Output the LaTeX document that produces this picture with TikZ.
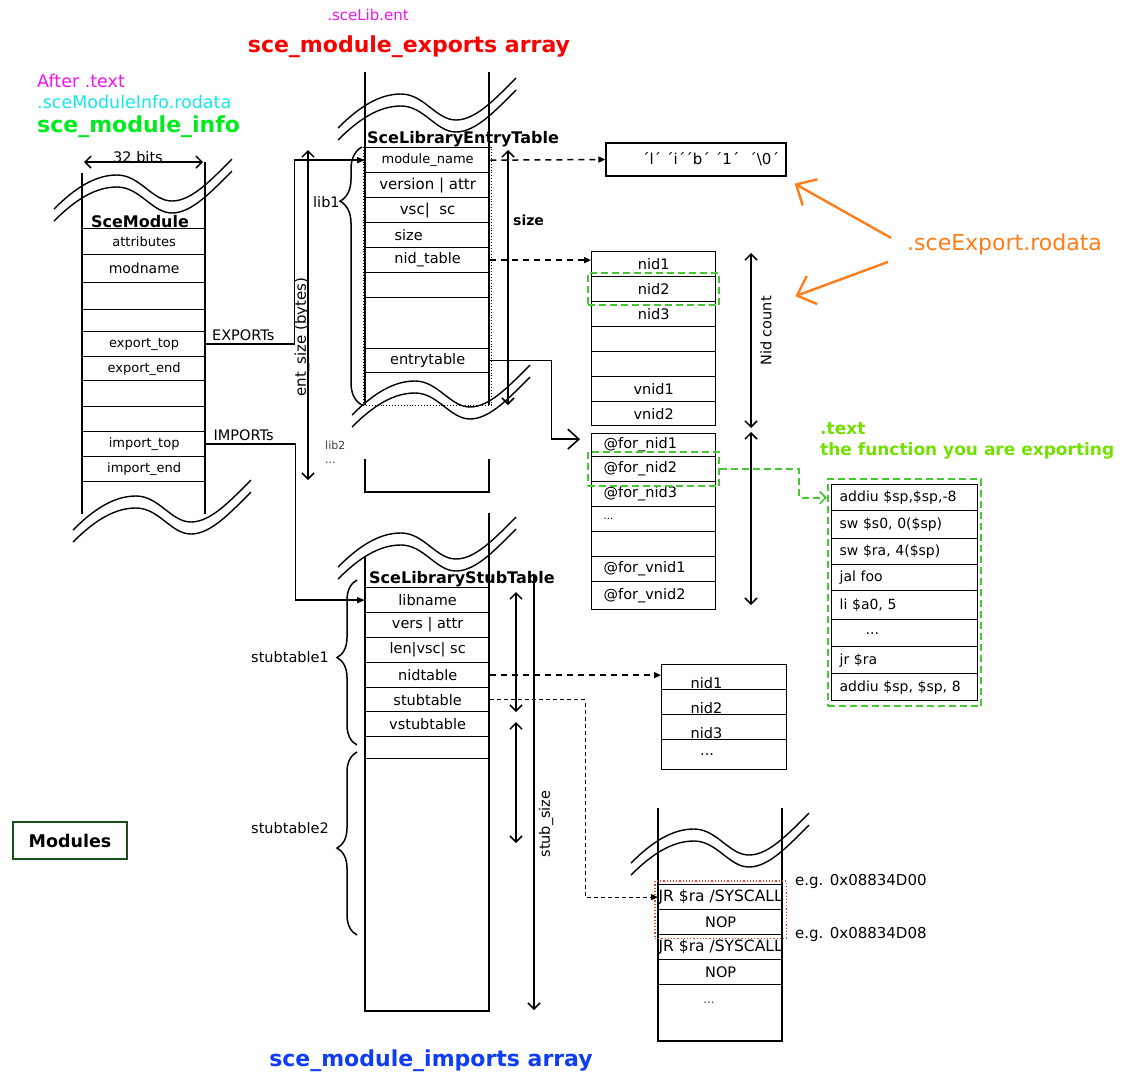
\documentclass[tikz,border=0pt]{standalone}
\usepackage{fontspec}
\setmainfont{DejaVu Sans}
\usetikzlibrary{arrows.meta,positioning,fit,calc,decorations.pathreplacing}
\newcommand{\pspfs}[1]{\fontsize{#1}{#1}\selectfont}
\definecolor{PspMagenta}{RGB}{240,20,240}
\definecolor{PspCyan}{RGB}{20,230,235}
\definecolor{PspGreen}{RGB}{0,235,30}
\definecolor{PspRed}{RGB}{250,0,0}
\definecolor{PspBlue}{RGB}{15,60,245}
\definecolor{PspOrange}{RGB}{255,125,25}
\definecolor{PspLime}{RGB}{115,225,0}
\definecolor{PspDash}{RGB}{70,200,50}
\definecolor{PspDarkGreen}{RGB}{25,80,25}
\definecolor{PspDotRed}{RGB}{230,70,40}
\tikzset{
  psp/wall/.style={line width=1.5pt},
  psp/cell/.style={draw, line width=1.3pt, inner sep=0pt, anchor=north west, font=\pspfs{14.5}},
  psp/lcell/.style={psp/cell, align=left, inner xsep=12pt, text width=100pt},
  psp/codecell/.style={psp/cell, align=left, inner xsep=8pt, text width=130pt, font=\pspfs{14}},
  psp/lowcell/.style={psp/cell, align=left, inner xsep=29pt, text width=67pt, text height=22pt, text depth=0pt},
  psp/title/.style={font=\bfseries\pspfs{22}, inner sep=0pt},
  psp/note/.style={font=\pspfs{14.5}, inner sep=0pt},
  psp/small/.style={font=\pspfs{11}, inner sep=0pt, text=black!75},
  psp/dim/.style={<->, >={Straight Barb[length=6pt,width=12pt]}, line width=1.5pt},
  psp/link/.style={-{Triangle[length=8pt,width=6pt]}, line width=1.4pt},
  psp/dashlink/.style={-{Triangle[length=7pt,width=6pt]}, dash pattern=on 6pt off 5pt, line width=1.5pt},
  psp/dashthin/.style={-{Triangle[length=7pt,width=6pt]}, dash pattern=on 4pt off 3pt, line width=1.2pt},
  psp/bigarrow/.style={->, >={Straight Barb[length=11pt,width=20pt]}, line width=1.6pt},
  psp/greenbox/.style={draw=PspDash, dash pattern=on 7pt off 4pt, line width=1.7pt, inner sep=3pt},
  psp/greenlink/.style={->, >={Straight Barb[length=6pt,width=12pt]}, draw=PspDash, dash pattern=on 7pt off 4pt, line width=1.7pt},
  psp/reddots/.style={draw=PspDotRed, dotted, line width=1.2pt, inner sep=3pt},
  psp/orangearrow/.style={->, >={Straight Barb[length=16pt,width=30pt]}, draw=PspOrange, line width=2.4pt},
  psp/brace/.style={decorate, line width=1.5pt},
  breakwave/.pic={
    \foreach \dy in {0,12}
      \draw[line width=1.4pt] (0,\dy) .. controls (22,\dy-22) and (42,\dy-34) .. (63,\dy-34)
        .. controls (86,\dy-34) and (98,\dy-8) .. (118,\dy-8)
        .. controls (138,\dy-8) and (158,\dy-30) .. (178,\dy-50);
  }
}

\begin{document}
\begin{tikzpicture}[x=1pt,y=-1pt]
  \useasboundingbox (0,0) rectangle (1130,1074);

  % section titles
  \node[psp/note, font=\pspfs{15}, text=PspMagenta, anchor=base] (libent) at (368,20) {.sceLib.ent};
  \node[psp/title, text=PspRed, anchor=base] (exparr) at (409,52) {sce\_module\_exports array};
  \node[psp/note, font=\pspfs{17.5}, text=PspMagenta, anchor=base west] (aftertext) at (37,87) {After .text};
  \node[psp/note, font=\pspfs{17.5}, text=PspCyan, anchor=base west] (infosec) at (37,108) {.sceModuleInfo.rodata};
  \node[psp/title, text=PspGreen, anchor=base west] (infoname) at (37,132) {sce\_module\_info};
  \node[psp/title, text=PspBlue, anchor=base] (imparr) at (431,1066) {sce\_module\_imports array};

  % SceModule
  \draw[psp/wall] (82,173) -- (82,514) (205,162) -- (205,514);
  \pic at (54,209) {breakwave};
  \pic at (73,530) {breakwave};
  \draw[psp/dim] (84,162) -- (203,162);
  \node[psp/note, anchor=base] (bits) at (138,162) {32 bits};
  \node[font=\bfseries\pspfs{16}, inner sep=0pt, anchor=base] (modtitle) at (140,227) {SceModule};
  \foreach \nm/\ya/\yb/\txt in {attr/228/254/attributes, modname/254/282/{\pspfs{14}modname},
      gap1/282/309/{}, gap2/309/331/{}, export/331/356/export\_top, exportend/356/380/export\_end,
      gap3/380/406/{}, gap4/406/431/{}, import/431/456/import\_top, importend/456/481/import\_end}
    \node[psp/cell, font=\pspfs{13}, minimum width=123, minimum height=\yb-\ya] (m-\nm) at (82,\ya) {\txt};

  % SceLibraryEntryTable
  \draw[psp/wall] (365,72) -- (365,405) (489,72) -- (489,405);
  \draw[psp/wall] (365,459) -- (365,492) -- (489,492) -- (489,459);
  \draw[dotted, line width=0.9pt] (363,147) rectangle (491,405);
  \pic at (338,128) {breakwave};
  \pic at (352,415) {breakwave};
  \node[font=\bfseries\pspfs{16}, inner sep=0pt, anchor=base west] (enttitle) at (367,143) {SceLibraryEntryTable};
  \foreach \nm/\ya/\yb/\txt in {modname/147/172/{\pspfs{13}module\_name}, version/172/197/{\pspfs{15}version | attr},
      vsc/197/222/{\pspfs{15}vsc|\ \ sc}, size/222/247/{size\hspace*{38pt}}, nidtab/247/272/{nid\_table},
      gap1/272/297/{}, gap2/297/348/{}, entry/348/372/{entrytable}}
    \node[psp/cell, minimum width=124, minimum height=\yb-\ya] (e-\nm) at (365,\ya) {\txt};
  \draw[psp/brace, decoration={brace, amplitude=22pt, aspect=0.79}] (362,405) -- (362,147);
  \node[psp/note, anchor=base west] (lib1) at (313,207) {lib1};
  \node[psp/small, anchor=base west] (lib2) at (325,449) {lib2};
  \node[psp/small, anchor=base west] (libmore) at (325,463) {...};
  \draw[psp/dim] (308,150) -- (308,480);
  \node[psp/note, font=\pspfs{15}, rotate=90] (entsize) at (302,337) {ent\_size (bytes)};
  \draw[psp/dim] (508,150) -- (508,405);
  \node[font=\bfseries\pspfs{14}, inner sep=0pt, anchor=base west] (sizelbl) at (513,225) {size};

  % exported name string
  \node[psp/cell, anchor=center, minimum height=33, font=\pspfs{15}, align=right, inner xsep=7pt, text width=166pt] (strbox) at (696,159.5) {´l´ ´i´´b´ ´1´ \ ´\textbackslash 0´};

  % nid table
  \foreach \nm/\ya/\yb/\txt in {nid1/251/276/nid1, nid2/276/301/nid2, nid3/301/326/nid3,
      gap1/326/351/{}, gap2/351/376/{}, vnid1/376/401/vnid1, vnid2/401/425/vnid2}
    \node[psp/cell, minimum width=124, minimum height=\yb-\ya] (n-\nm) at (591,\ya) {\txt};
  \node[psp/greenbox, fit=(n-nid2)] (nidsel) {};
  \draw[psp/dim] (751,253) -- (751,428);
  \node[psp/note, rotate=90] (nidcount) at (766,331) {Nid count};

  % function table
  \foreach \nm/\ya/\yb/\txt in {nid1/433/456/{@for\_nid1}, nid2/456/481/{@for\_nid2}, nid3/481/506/{@for\_nid3},
      dots/506/531/{\pspfs{10}...}, gap/531/556/{}, vnid1/556/581/{@for\_vnid1}, vnid2/581/609/{@for\_vnid2}}
    \node[psp/lcell, minimum height=\yb-\ya] (f-\nm) at (591,\ya) {\txt};
  \node[psp/greenbox, fit=(f-nid2), inner ysep=4pt] (funcsel) {};
  \draw[psp/dim] (751,432) -- (751,605);

  % exported function body
  \node[font=\bfseries\pspfs{17}, text=PspLime, inner sep=0pt, anchor=base west] (textsec) at (820,434) {.text};
  \node[font=\bfseries\pspfs{17}, text=PspLime, inner sep=0pt, anchor=base west] (textnote) at (820,455) {the function you are exporting};
  \node[psp/codecell, minimum height=26] (c-1) at (831,484) {addiu \$sp,\$sp,-8};
  \node[psp/codecell, minimum height=28] (c-2) at (831,510) {sw \$s0, 0(\$sp)};
  \node[psp/codecell, minimum height=26] (c-3) at (831,538) {sw \$ra, 4(\$sp)};
  \node[psp/codecell, minimum height=26] (c-4) at (831,564) {jal foo};
  \node[psp/codecell, minimum height=29] (c-5) at (831,590) {li \$a0, 5};
  \node[psp/codecell, minimum height=27] (c-6) at (831,619) {\hspace*{26pt}...};
  \node[psp/codecell, minimum height=27] (c-7) at (831,646) {jr \$ra};
  \node[psp/codecell, minimum height=27] (c-8) at (831,673) {addiu \$sp, \$sp, 8};
  \node[psp/greenbox, fit=(c-1)(c-8), inner ysep=5pt] (codesel) {};

  \node[font=\pspfs{22}, text=PspOrange, inner sep=0pt, anchor=base west] (sceexp) at (907,250) {.sceExport.rodata};

  % SceLibraryStubTable
  \draw[psp/wall] (365,557) -- (365,1011) -- (489,1011) -- (489,513);
  \pic at (338,567) {breakwave};
  \node[font=\bfseries\pspfs{16}, inner sep=0pt, anchor=base west] (stubtitle) at (369,583) {SceLibraryStubTable};
  \foreach \nm/\ya/\yb/\txt in {libname/587/612/libname, vers/612/637/{vers | attr}, len/637/662/{len|vsc| sc},
      nidtab/662/687/nidtable, stubtab/687/711/stubtable, vstub/711/736/vstubtable, gap/736/758/{}}
    \node[psp/cell, minimum width=124, minimum height=\yb-\ya] (s-\nm) at (365,\ya) {\txt};
  \draw[psp/brace, decoration={brace, amplitude=20pt, aspect=0.53}] (357,745) -- (357,580);
  \draw[psp/brace, decoration={brace, amplitude=20pt, aspect=0.475}] (357,935) -- (357,752);
  \node[psp/note, anchor=base west] (stub1) at (251,662) {stubtable1};
  \node[psp/note, anchor=base west] (stub2) at (251,833) {stubtable2};
  \draw[psp/dim] (516,592) -- (516,712);
  \draw[psp/dim] (516,722) -- (516,843);
  \draw[psp/dim, ->] (534,575) -- (534,1010);
  \node[psp/note, rotate=90] (stubsize) at (546,824) {stub\_size};

  % imported nid table
  \foreach \nm/\ya/\yb/\txt in {a/664/689/nid1, b/689/714/nid2, c/714/739/nid3}
    \node[psp/lowcell, minimum height=\yb-\ya] (n2-\nm) at (661,\ya) {\txt};
  \node[psp/cell, minimum width=125, minimum height=30] (n2-d) at (661,739) {...\hspace*{34pt}};

  % syscall stubs
  \draw[psp/wall] (658,808) -- (658,1041) -- (782,1041) -- (782,808);
  \pic at (631,863) {breakwave};
  \foreach \nm/\ya/\yb/\txt in {1/884/909/{\pspfs{15.5}JR \$ra /SYSCALL}, 2/909/934/NOP,
      3/934/959/{\pspfs{15.5}JR \$ra /SYSCALL}, 4/959/984/NOP}
    \node[psp/cell, minimum width=124, minimum height=\yb-\ya] (sy-\nm) at (658,\ya) {\txt};
  \node[psp/small, font=\pspfs{12}] (sydots) at (709,1003) {...};
  \node[psp/reddots, fit=(sy-1)(sy-2)] (stubsel) {};
  \node[psp/note, font=\pspfs{15}, anchor=base west] (addr1) at (795,885) {e.g. 0x08834D00};
  \node[psp/note, font=\pspfs{15}, anchor=base west] (addr2) at (795,938) {e.g. 0x08834D08};

  \node[draw=PspDarkGreen, line width=1.2pt, minimum width=114, minimum height=37, font=\bfseries\pspfs{17.5}] (modules) at (70,840.5) {Modules};

  % connectors
  \draw[psp/link] (m-export.east) -- node[psp/note, above=3pt, pos=0.42] {EXPORTs} ++(88,0) |- (e-modname.west);
  \draw[psp/link] (m-import.east) -- node[psp/note, above=3pt, pos=0.42] {IMPORTs} ++(89,0) |- (s-libname.west);
  \draw[psp/dashlink] (e-modname.east) -- (strbox.west);
  \draw[psp/dashlink] (e-nidtab.east) -- (e-nidtab.east -| n-nid1.west);
  \draw[psp/bigarrow] (e-entry.east) -- ++(61,0) |- ([xshift=-11pt,yshift=6pt]f-nid1.west);
  \draw[psp/greenlink] (funcsel.east) -- ++(79,0) |- ([xshift=-4pt]c-1.west);
  \draw[psp/dashlink] (s-nidtab.east) -- (s-nidtab.east -| n2-a.west);
  \draw[psp/dashthin] (s-stubtab.east) -- ++(95,0) |- (sy-1.west);
  \draw[psp/orangearrow] ([shift={(-16,-6)}]sceexp.west) -- ([shift={(8,7)}]strbox.south east);
  \draw[psp/orangearrow] ([shift={(-19,18)}]sceexp.west) -- ([shift={(79,7)}]n-nid2.east);
\end{tikzpicture}
\end{document}
